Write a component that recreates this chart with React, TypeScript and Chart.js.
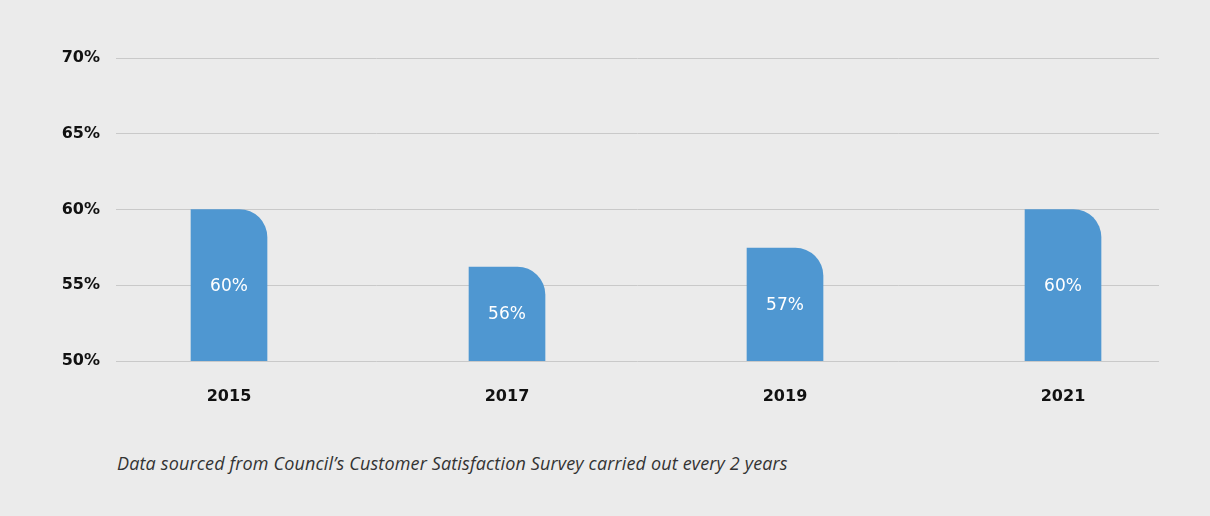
import React, { useEffect, useRef } from "react";
import { Chart, registerables } from "chart.js";

Chart.register(...registerables);

const categories = ["2015", "2017", "2019", "2021"];
const values = [60, 56.2, 57.45, 60];
const valueLabels = ["60%", "56%", "57%", "60%"];
const yTicks = [50, 55, 60, 65, 70];
const footnote = "Data sourced from Council\u2019s Customer Satisfaction Survey carried out every 2 years";

const W = 1210;
const H = 430;

const barLabelPlugin = {
  id: "barLabels",
  afterDatasetsDraw(chart: any) {
    const ctx = chart.ctx;
    const xs = chart.scales.x;
    const ys = chart.scales.y;
    const base = ys.getPixelForValue(ys.min);
    ctx.save();
    ctx.fillStyle = "#ffffff";
    ctx.font = "17px 'DejaVu Sans'";
    ctx.textAlign = "center";
    ctx.textBaseline = "middle";
    values.forEach((v, i) => {
      const x = xs.getPixelForValue(i);
      const y = ys.getPixelForValue(v);
      ctx.fillText(valueLabels[i], x, (y + base) / 2 + 1);
    });
    ctx.restore();
  },
};

export default function App() {
  const ref = useRef<HTMLCanvasElement | null>(null);

  useEffect(() => {
    document.body.style.margin = "0";
    const canvas = ref.current;
    if (!canvas) return;
    const chart = new Chart(canvas, {
      type: "bar",
      data: {
        datasets: [
          {
            data: values.map((v, i) => ({ x: i, y: v })),
            backgroundColor: "#4f97d1",
            barThickness: 76,
            borderRadius: { topLeft: 0, topRight: 28, bottomLeft: 0, bottomRight: 0 },
            borderSkipped: false,
          },
        ],
      },
      options: {
        responsive: false,
        animation: false,
        layout: { padding: { top: 58, right: 51, left: 0, bottom: 0 } },
        plugins: {
          legend: { display: false },
          tooltip: { enabled: false },
        },
        scales: {
          x: {
            type: "linear",
            offset: false,
            min: -0.4065,
            max: 3.3453,
            grid: { display: false, offset: false },
            border: { display: false },
            afterBuildTicks: (scale: any) => {
              scale.ticks = categories.map((_, i) => ({ value: i }));
            },
            afterFit: (scale: any) => {
              scale.height = H - 361;
            },
            ticks: {
              padding: 18,
              color: "#111111",
              font: { family: "'DejaVu Sans'", size: 16, weight: "bold" },
              callback: (v: any) => categories[v] ?? "",
              maxRotation: 0,
            },
          },
          y: {
            min: 50,
            max: 70,
            afterBuildTicks: (scale: any) => {
              scale.ticks = yTicks.map((v) => ({ value: v }));
            },
            afterFit: (scale: any) => {
              scale.width = 116;
            },
            grid: { color: "#c9c9c9", lineWidth: 1, drawTicks: false },
            border: { display: false },
            ticks: {
              padding: 16,
              color: "#111111",
              font: { family: "'DejaVu Sans'", size: 16, weight: "bold" },
              callback: (v: any) => v + "%",
            },
          },
        },
      },
      plugins: [barLabelPlugin],
    });
    return () => chart.destroy();
  }, []);

  return (
    <div
      style={{
        position: "relative",
        width: W,
        height: 516,
        background: "#ebebeb",
        overflow: "hidden",
      }}
    >
      <canvas ref={ref} width={W} height={H} style={{ display: "block" }} />
      <div
        style={{
          position: "absolute",
          left: 117,
          top: 451,
          fontFamily: "'Open Sans', sans-serif",
          fontStyle: "italic",
          fontSize: 18,
          letterSpacing: 0.15,
          color: "#333333",
          whiteSpace: "nowrap",
        }}
      >
        {footnote}
      </div>
    </div>
  );
}
